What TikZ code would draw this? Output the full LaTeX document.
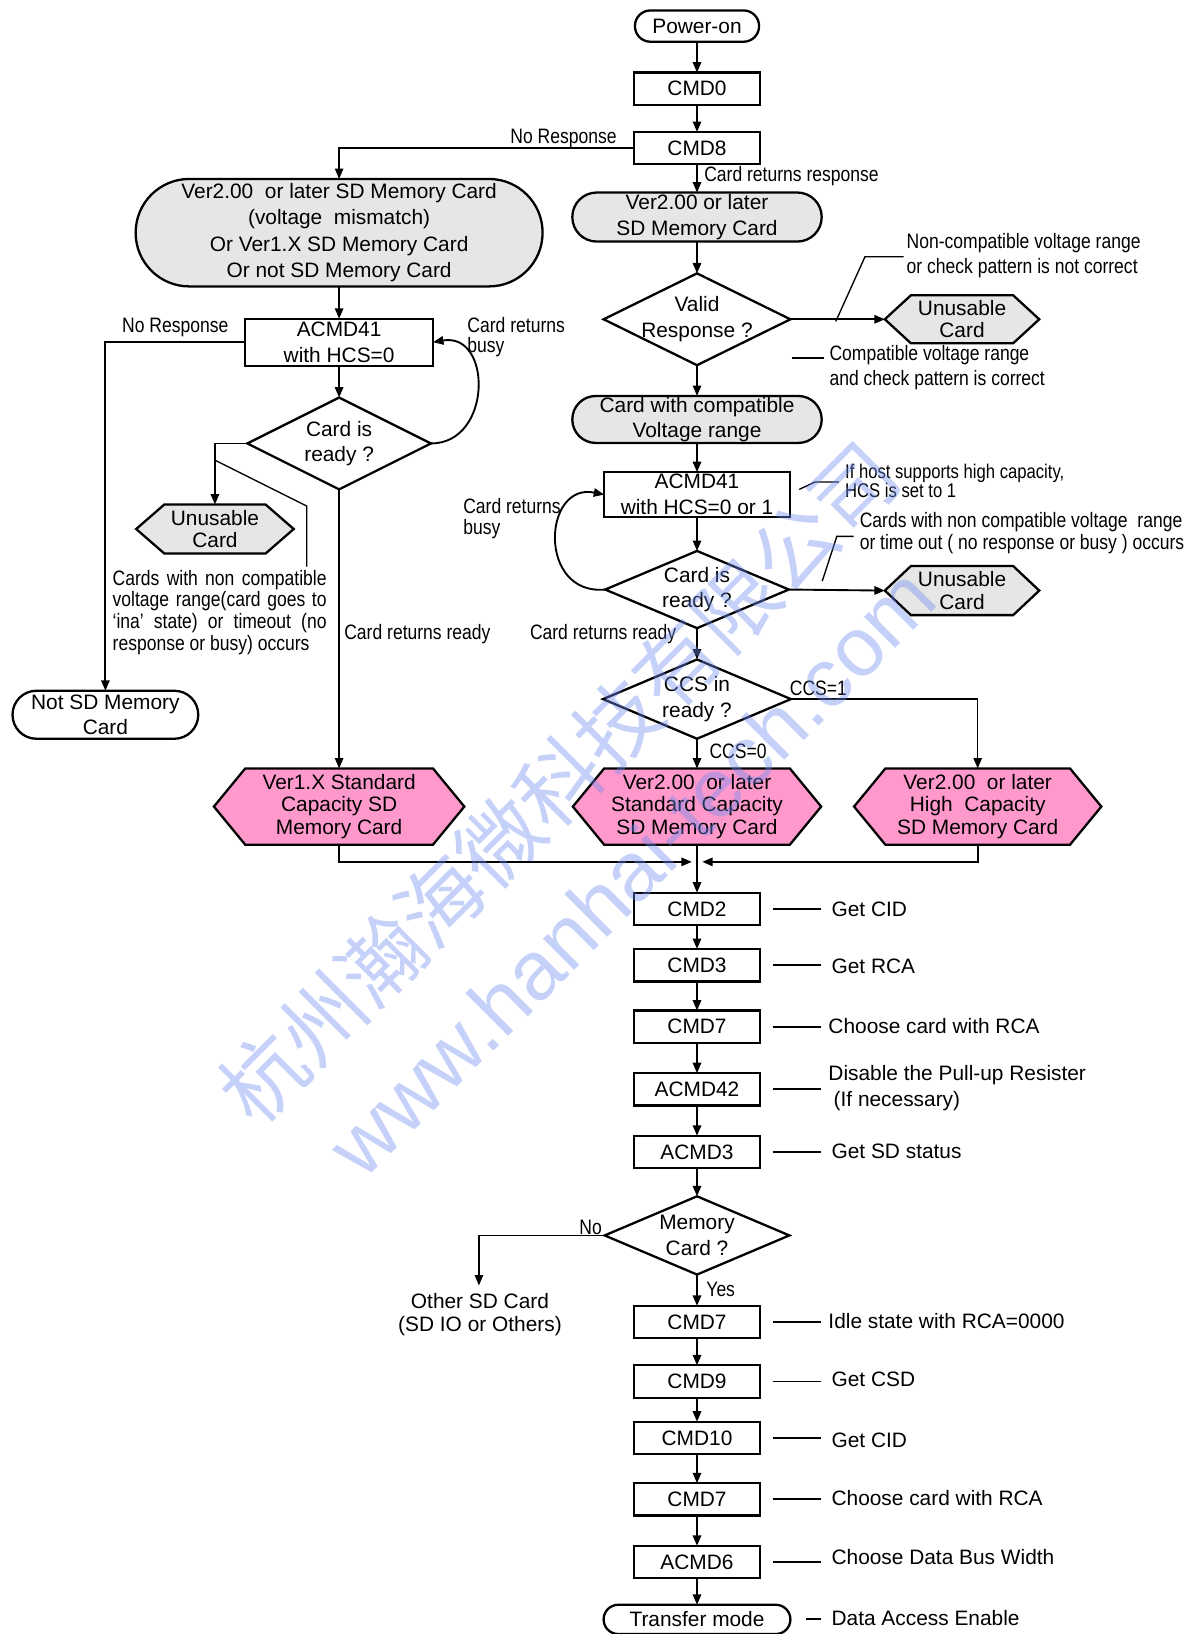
\documentclass[tikz,border=0pt]{standalone}
\usepackage{fontspec}
\setmainfont{Liberation Sans}
\newfontfamily\nar[FakeStretch=0.84]{Liberation Sans}
\newfontfamily\cjk{Noto Sans CJK SC}
\usetikzlibrary{arrows.meta}
\definecolor{cardgray}{RGB}{230,230,230}
\definecolor{cardpink}{RGB}{255,153,204}
\definecolor{wmblue}{RGB}{110,140,240}
% hexagon: name, x, y, w, h, inset, fill, text
\newcommand\mkhex[8]{%
  \draw[line width=2.2pt,fill=#7] ({#2-#4/2},#3) -- ({#2-#4/2+#6},{#3-#5/2}) -- ({#2+#4/2-#6},{#3-#5/2}) -- ({#2+#4/2},#3) -- ({#2+#4/2-#6},{#3+#5/2}) -- ({#2-#4/2+#6},{#3+#5/2}) -- cycle;
  \node[hextxt,minimum width=#4pt,minimum height=#5pt] (#1) at (#2,#3) {#8};}
% diamond: name, x, y, w, h, text
\newcommand\mkdia[6]{%
  \draw[line width=2.2pt,fill=white] ({#2-#4/2},#3) -- (#2,{#3-#5/2}) -- ({#2+#4/2},#3) -- (#2,{#3+#5/2}) -- cycle;
  \node[txt,minimum width=#4pt,minimum height=#5pt] (#1) at (#2,#3) {#6};}
\begin{document}
\begin{tikzpicture}[x=1pt,y=-1pt,
  every node/.style={outer sep=0pt,inner sep=0pt},
  txt/.style={font=\fontsize{20}{24.5}\selectfont,align=center},
  hextxt/.style={font=\fontsize{20}{21.5}\selectfont,align=center},
  lbl/.style={font=\fontsize{20}{25}\selectfont,align=left},
  nar/.style={font=\nar\fontsize{20}{22}\selectfont,align=left},
  box/.style={draw,line width=2.2pt,txt,minimum width=121pt,minimum height=31pt},
  stad/.style={draw,line width=2.2pt,txt,rounded corners=#1},
  conn/.style={line width=1.8pt,-{Triangle[length=10pt,width=8pt]}},
  plain/.style={line width=1.8pt},
  lead/.style={line width=1.3pt},
  wm/.style={text=wmblue,opacity=0.4,rotate=45}
]
\useasboundingbox (0,0) rectangle (1146,1566);

% ---------- main column top ----------
\node[stad=14.9pt,minimum width=119pt,minimum height=30pt] (pwr) at (668,25) {Power-on};
\node[box] (cmd0) at (668,85) {CMD0};
\node[box] (cmd8) at (668,142) {CMD8};
\node[stad=23.4pt,fill=cardgray,minimum width=239pt,minimum height=47pt] (v2) at (668,208) {Ver2.00 or later\\SD Memory Card};
\mkdia{valid}{668}{306}{179}{88}{Valid\\Response ?}
\mkhex{un1}{922}{306}{148}{46}{25}{cardgray}{Unusable\\Card}
\node[stad=22.4pt,fill=cardgray,minimum width=239pt,minimum height=45pt] (compat) at (668,402) {Card with compatible\\Voltage range};
\node[box,minimum width=178pt,minimum height=43pt] (acr) at (668,474) {ACMD41\\with HCS=0 or 1};
\mkdia{rdyR}{668}{565}{176}{74}{Card is\\ready ?}
\mkhex{un3}{922}{566}{148}{47}{25}{cardgray}{Unusable\\Card}
\mkdia{ccs}{668}{670}{180}{76}{CCS in\\ready ?}

% ---------- left branch ----------
\node[stad=51.4pt,fill=cardgray,minimum width=390pt,minimum height=103pt,font=\fontsize{20}{25.5}\selectfont] (big) at (325,223) {Ver2.00\ \ or later SD Memory Card\\(voltage\ \ mismatch)\\Or Ver1.X SD Memory Card\\Or not SD Memory Card};
\node[box,minimum width=180pt,minimum height=45pt] (acl) at (325,328) {ACMD41\\with HCS=0};
\mkdia{rdyL}{325}{425}{176}{88}{Card is\\ready ?}
\mkhex{un2}{206}{507}{151}{47}{27}{cardgray}{Unusable\\Card}
\node[stad=22.9pt,fill=white,minimum width=178pt,minimum height=46pt] (notsd) at (101,685) {Not SD Memory\\Card};

% ---------- card types ----------
\mkhex{v1x}{325}{773}{240}{73}{30}{cardpink}{Ver1.X Standard\\Capacity SD\\Memory Card}
\mkhex{v2s}{668}{773}{238}{73}{30}{cardpink}{Ver2.00\ \ or later\\Standard Capacity\\SD Memory Card}
\mkhex{v2h}{937}{773}{237}{73}{30}{cardpink}{Ver2.00\ \ or later\\High\ \ Capacity\\SD Memory Card}

% ---------- lower column ----------
\node[box] (cmd2) at (668,871) {CMD2};
\node[box] (cmd3) at (668,925) {CMD3};
\node[box] (cmd7a) at (668,984) {CMD7};
\node[box] (acmd42) at (668,1044) {ACMD42};
\node[box] (acmd3) at (668,1104) {ACMD3};
\mkdia{mem}{668}{1184}{177}{75}{Memory\\Card ?}
\node[box] (cmd7b) at (668,1267) {CMD7};
\node[box] (cmd9) at (668,1324) {CMD9};
\node[box] (cmd10) at (668,1378) {CMD10};
\node[box] (cmd7c) at (668,1437) {CMD7};
\node[box] (acmd6) at (668,1497) {ACMD6};
\node[stad=13.9pt,minimum width=179pt,minimum height=28pt] (xfer) at (668,1552) {Transfer mode};
\coordinate (oth) at (459,1232);
\coordinate (mL) at (663,826);
\coordinate (mR) at (673,826);

% ---------- connectors ----------
\draw[conn] (pwr) -- (cmd0);
\draw[conn] (cmd0) -- (cmd8);
\draw[conn] (cmd8) -- (v2);
\draw[conn] (v2) -- (valid);
\draw[conn] (valid) -- (compat);
\draw[conn] (valid.east) -- (un1.west);
\draw[conn] (compat) -- (acr);
\draw[conn] (acr) -- (rdyR);
\draw[conn] (rdyR.east) -- (un3.west);
\draw[conn] (rdyR.west) .. controls (515,571) and (520,462) .. (acr.west);
\draw[conn] (rdyR) -- (ccs);
\draw[conn] (ccs) -- (v2s);
\draw[conn,line width=1.4pt] (ccs.east) -| (v2h.north);
\draw[conn] (cmd8.west) -| (big.north);
\draw[conn] (big) -- (acl);
\draw[conn] (acl) -- (rdyL);
\draw[conn] (rdyL.east) .. controls (472,425) and (472,318) .. (acl.east);
\draw[conn] (rdyL.west) -| (un2.north);
\draw[conn] (acl.west) -| (notsd.north);
\draw[conn] (rdyL.south) -- (v1x.north);
\draw[conn] (v1x.south) |- (mL);
\draw[conn] (v2h.south) |- (mR);
\draw[conn] (v2s.south) -- (cmd2.north);
\draw[conn] (cmd2) -- (cmd3);
\draw[conn] (cmd3) -- (cmd7a);
\draw[conn] (cmd7a) -- (acmd42);
\draw[conn] (acmd42) -- (acmd3);
\draw[conn] (acmd3) -- (mem);
\draw[conn,line width=1.4pt] (mem.west) -| (oth);
\draw[conn] (mem) -- (cmd7b);
\draw[conn] (cmd7b) -- (cmd9);
\draw[conn] (cmd9) -- (cmd10);
\draw[conn] (cmd10) -- (cmd7c);
\draw[conn] (cmd7c) -- (acmd6);
\draw[conn] (acmd6) -- (xfer);

% ---------- leaders ----------
\draw[lead] (866,246) -- (829,246) -- (801,308);
\draw[lead] (759,343) -- (790,343);
\draw[lead] (766,469) -- (781,462) -- (804,462);
\draw[lead] (788,557) -- (802,514) -- (818,514);
\draw[lead] (206,441) -- (294,485) -- (294,543);

% ---------- labels ----------
\node[nar,anchor=east] (lnr1) at (591,133) {No Response};
\node[nar,anchor=west] (lcrr) at (675,169) {Card returns\ response};
\node[nar,anchor=west,font=\nar\fontsize{20}{24}\selectfont] (lnc) at (869,245) {Non-compatible\ voltage\ range\\or check pattern is not correct};
\node[nar,anchor=west,font=\nar\fontsize{20}{24}\selectfont] (lcv) at (795,352) {Compatible voltage range\\and check pattern is correct};
\node[nar] (lnr2) at (168,314) {No Response};
\node[nar,anchor=west,font=\nar\fontsize{20}{19}\selectfont] (lbusy1) at (448,323) {Card returns\\busy};
\node[nar,anchor=west,font=\nar\fontsize{20}{21}\selectfont] (lbusy2) at (444,497) {Card returns\\busy};
\node[nar,anchor=west] (lrdy1) at (330,608) {Card returns ready};
\node[nar,anchor=east] (lrdy2) at (648,608) {Card returns ready};
\node[nar,anchor=west] (lccs1) at (757,660) {CCS=1};
\node[nar,anchor=west] (lccs0) at (680,720) {CCS=0};
\node[nar,anchor=west,text width=205pt,align=justify,font=\nar\fontsize{20}{21}\selectfont] (lcards) at (108,587) {Cards with non compatible\linebreak voltage range(card goes to\linebreak ‘ina’ state) or timeout (no\linebreak response or busy) occurs};
\node[nar,anchor=west,font=\nar\fontsize{19}{18}\selectfont] (lhost) at (810,461) {If host supports\ high capacity,\\HCS is set to 1};
\node[nar,anchor=west,font=\nar\fontsize{20}{20.5}\selectfont] (lcards2) at (824,511) {Cards with non compatible voltage\ \ range\\or time out ( no response or busy ) occurs};
\node[nar] (lno) at (566,1176) {No};
\node[nar,anchor=west] (lyes) at (677,1236) {Yes};
\node[txt,font=\fontsize{20}{22}\selectfont] (lother) at (460,1260) {Other SD Card\\(SD IO or Others)};

% right-hand descriptions
\node[lbl,anchor=west] (d2) at (797,871) {Get CID};
\node[lbl,anchor=west] (d3) at (797,926) {Get RCA};
\node[lbl,anchor=west] (d7a) at (794,983) {Choose card with RCA};
\node[lbl,anchor=west] (d42) at (794,1043) {Disable the Pull-up Resister\\\hspace{5pt}(If necessary)};
\node[lbl,anchor=west] (dsd) at (797,1103) {Get SD status};
\node[lbl,anchor=west] (d7b) at (794,1266) {Idle state with RCA=0000};
\node[lbl,anchor=west] (d9) at (797,1322) {Get CSD};
\node[lbl,anchor=west] (d10) at (797,1380) {Get CID};
\node[lbl,anchor=west] (d7c) at (797,1436) {Choose card with RCA};
\node[lbl,anchor=west] (d6) at (797,1492) {Choose Data Bus Width};
\node[lbl,anchor=west] (dx) at (797,1551) {Data Access Enable};
\foreach \b/\d in {cmd2/d2,cmd3/d3,cmd7a/d7a,acmd42/d42,acmd3/dsd,cmd7b/d7b,cmd9/d9,cmd10/d10,cmd7c/d7c,acmd6/d6}
  \draw[plain] ([xshift=12pt]\b.east) -- ([xshift=58pt]\b.east);
\draw[plain] ([xshift=15pt]xfer.east) -- ([xshift=29pt]xfer.east);

% ---------- watermark ----------
\node[wm,font=\cjk\fontsize{80}{80}\selectfont] (wm1) at (535,750) {杭州瀚海微科技有限公司};
\node[wm,font=\fontsize{80}{80}\selectfont] (wm2) at (605,835) {www.hanhai-tech.com};
\end{tikzpicture}
\end{document}
